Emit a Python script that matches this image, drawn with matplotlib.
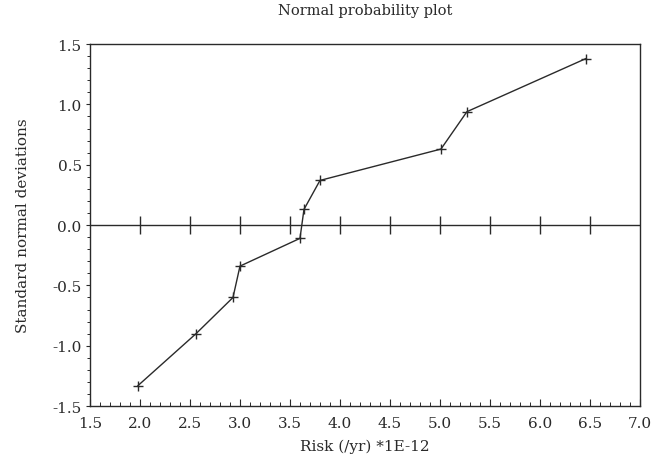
import matplotlib.pyplot as plt
import numpy as np
from matplotlib.ticker import MultipleLocator

# Risk values (*1E-12 per year) and standard normal deviations
risk = [1.98, 2.56, 2.93, 3.0, 3.6, 3.64, 3.8, 5.01, 5.27, 6.46]
z = [-1.33, -0.9, -0.6, -0.34, -0.11, 0.13, 0.37, 0.63, 0.94, 1.38]

# tick marks drawn on the zero line
zero_ticks = [2.0, 2.5, 3.0, 3.5, 4.0, 4.5, 5.0, 5.5, 6.0, 6.5]

plt.rcParams['font.family'] = 'DejaVu Serif'
plt.rcParams['axes.unicode_minus'] = False
ink = '#2a2a2a'

fig = plt.figure(figsize=(6.57, 4.60), dpi=100)
ax = fig.add_axes([0.137, 0.115, 0.837, 0.787])

ax.plot(risk, z, color=ink, lw=1.0, marker='+', ms=7, mew=1.0)

# zero line with vertical tick marks
ax.axhline(0, color=ink, lw=1.0)
ax.plot(zero_ticks, np.zeros(len(zero_ticks)), ls='none', marker='|', ms=13, mew=1.0, color=ink)

ax.set_xlim(1.5, 7.0)
ax.set_ylim(-1.5, 1.5)
ax.xaxis.set_major_locator(MultipleLocator(0.5))
ax.xaxis.set_minor_locator(MultipleLocator(0.1))
ax.yaxis.set_major_locator(MultipleLocator(0.5))
ax.yaxis.set_minor_locator(MultipleLocator(0.1))
ax.xaxis.set_major_formatter(plt.FormatStrFormatter('%.1f'))
ax.yaxis.set_major_formatter(plt.FormatStrFormatter('%.1f'))

ax.tick_params(axis='x', which='major', direction='in', length=5, width=0.8, colors=ink, labelsize=11, pad=7)
ax.tick_params(axis='x', which='minor', direction='in', length=3, width=0.7, colors=ink)
ax.tick_params(axis='y', which='major', direction='out', length=3, width=0.8, colors=ink, labelsize=11, pad=3)
ax.tick_params(axis='y', which='minor', direction='out', length=2, width=0.7, colors=ink)

for s in ax.spines.values():
    s.set_color(ink)
    s.set_linewidth(1.0)

ax.set_title('Normal probability plot', fontsize=10.5, color=ink, pad=22)
ax.set_xlabel('Risk (/yr) *1E-12', fontsize=11, color=ink, labelpad=6)
ax.set_ylabel('Standard normal deviations', fontsize=11, color=ink, labelpad=16)

fig.savefig('out.png', dpi=100)
